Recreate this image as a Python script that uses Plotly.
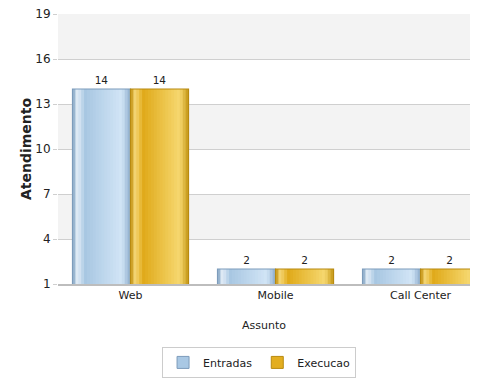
import plotly.graph_objects as go

categories = ["Web", "Mobile", "Call Center"]
entradas = [14, 2, 2]
execucao = [14, 2, 2]
series_names = ["Entradas", "Execucao"]
y_ticks = [1, 4, 7, 10, 13, 16, 19]

def lerp(c1, c2, t):
    return tuple(round(a + (b - a) * t) for a, b in zip(c1, c2))

def gradient(stops, t):
    for (t0, c0), (t1, c1) in zip(stops, stops[1:]):
        if t0 <= t <= t1:
            return lerp(c0, c1, (t - t0) / (t1 - t0) if t1 > t0 else 0)
    return stops[-1][1]

blue_stops = [(0.0, (120, 156, 190)), (0.08, (228, 238, 248)), (0.22, (168, 199, 226)),
              (0.85, (210, 229, 246)), (1.0, (140, 172, 204))]
gold_stops = [(0.0, (190, 140, 10)), (0.08, (246, 216, 120)), (0.22, (224, 170, 26)),
              (0.85, (246, 216, 112)), (1.0, (196, 150, 20))]
outline = ["#7d9cbb", "#b88a10"]
legend_col = ["#a9c8e4", "#e3ae20"]

fig = go.Figure()
bar_w = 0.4
n_slices = 20
for si, (vals, stops) in enumerate([(entradas, blue_stops), (execucao, gold_stops)]):
    base_off = -bar_w if si == 0 else 0.0
    sw = bar_w / n_slices
    for k in range(n_slices):
        t = (k + 0.5) / n_slices
        c = gradient(stops, t)
        w = sw * 2.0 if k < n_slices - 1 else sw
        fig.add_trace(go.Bar(
            x=categories, y=vals, offset=base_off + k * sw, width=w,
            marker=dict(color=f"rgb{c}", line=dict(width=0)),
            showlegend=False, hoverinfo="skip"))
    fig.add_trace(go.Bar(
        x=categories, y=vals, offset=base_off, width=bar_w,
        marker=dict(color="rgba(0,0,0,0)", line=dict(color=outline[si], width=1.2)),
        text=[str(v) for v in vals], textposition="outside",
        textfont=dict(size=10.5, color="#222", family="DejaVu Sans"),
        showlegend=False, name=series_names[si]))
    fig.add_trace(go.Bar(
        x=[None], y=[None], name=series_names[si],
        marker=dict(color=legend_col[si], line=dict(color=outline[si], width=1))))

shapes = []
for i, (a, b) in enumerate(zip(y_ticks[:-1], y_ticks[1:])):
    if i % 2 == 1:
        shapes.append(dict(type="rect", xref="paper", yref="y", x0=0, x1=1, y0=a, y1=b,
                           fillcolor="#f3f3f3", line=dict(width=0), layer="below"))

# page body has an 8px margin; visible area for the figure is 462x374
fig.update_layout(
    width=462, height=374,
    margin=dict(l=50, r=0, t=6, b=98),
    paper_bgcolor="white", plot_bgcolor="white",
    barmode="overlay",
    font=dict(family="DejaVu Sans", size=11, color="#222"),
    shapes=shapes,
    xaxis=dict(range=[-0.5, 2.341], showgrid=False, showline=True, linecolor="#bdbdbd",
               linewidth=2, ticks="", tickfont=dict(size=11), automargin=False,
               title=dict(text="Assunto", font=dict(size=11), standoff=20)),
    yaxis=dict(range=[1, 19], tickvals=y_ticks, showgrid=True, gridcolor="#cfcfcf",
               gridwidth=1, ticks="outside", ticklen=4, tickcolor="#cfcfcf",
               zeroline=False, tickfont=dict(size=12), automargin=False,
               ticklabeloverflow="allow",
               title=dict(text="<b>Atendimento</b>", font=dict(size=14), standoff=0)),
    legend=dict(orientation="h", x=0.488, xanchor="center", y=-0.233, yanchor="top",
                bordercolor="#cccccc", borderwidth=1, bgcolor="white",
                font=dict(size=11), itemwidth=30),
)

fig.write_html("out.html")
